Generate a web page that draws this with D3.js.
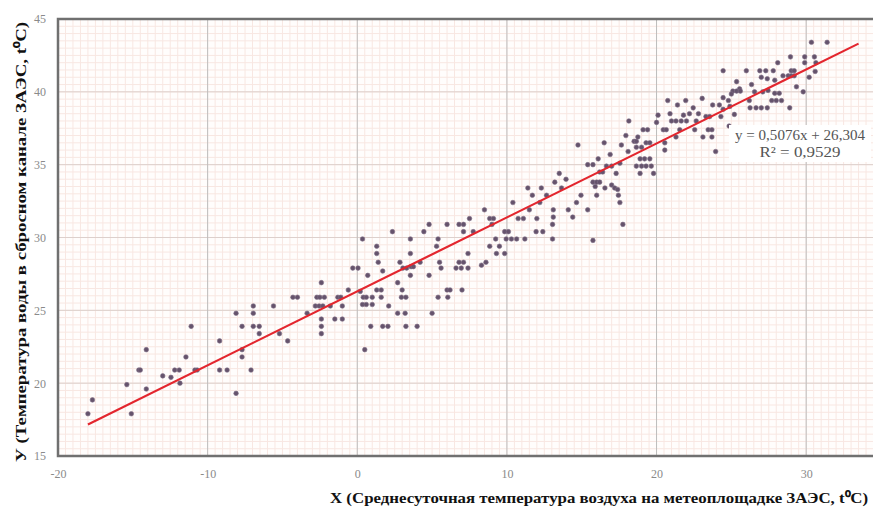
<!DOCTYPE html>
<html>
<head>
<meta charset="utf-8">
<script src="https://cdn.jsdelivr.net/npm/d3@7"></script>
<style>
  body { margin: 0; background: #ffffff; }
  svg { display: block; }
</style>
</head>
<body>
<div id="chart"></div>
<script>
// air temperature (X) and water temperature (Y)
var airTemp = [
  -17.7, -18.0, -15.1, -15.4, -14.1, -14.1, -14.6, -14.5, -13.0, -12.45, -12.2, -11.9, -11.45, -11.1, -11.85, -10.85, -10.7,
  -9.2, -9.2, -8.7, -8.1, -7.7, -7.7, -7.1, -7.7, -8.1, -6.95, -6.95, -6.95, -6.55, -6.55, -5.6, -4.65, -5.2, -4.3, -4.0,
  -3.35, -2.7, -2.5, -2.2, -2.4, -2.8, -2.55, -2.3, -2.4, -2.4, -2.4, -1.8, -1.5, -1.3,
  -1.1, -1.0, -1.0, -0.6, -0.3, 0.05, 0.35, 0.4, 0.6, 0.35, 0.6, 1.0, 0.2, 0.5, 0.7, 0.9, 1.0, 1.3, 1.3, 1.4, 1.3, 1.6,
  1.7, 1.6, 1.7, 2.05, 2.1, 2.35, 2.7, 2.85, 3.0, 3.05, 3.3, 2.95, 3.25, 2.7, 3.2, 3.25, 3.55, 3.55, 3.6, 3.75, 3.55, 4.0,
  4.2, 4.45, 4.8, 4.8, 5.0, 5.3, 5.4, 5.5, 5.6, 5.4, 6.05, 6.0, 6.2, 6.0, 6.6, 6.95, 7.4, 6.8, 7.1, 6.8, 7.1, 7.0, 7.1,
  7.4, 7.5, 7.75, 8.3, 8.6, 8.5, 8.85, 9.1, 9.0, 8.85, 9.25, 9.5, 9.3, 9.85, 9.85, 10.1, 9.95, 10.3, 10.65, 10.4, 10.75,
  11.1, 11.2, 11.4, 11.5, 11.7, 12.0, 11.95,
  12.2, 12.4, 12.3, 12.65, 13.1, 13.1, 13.05, 13.05, 13.2, 13.5, 13.65, 13.95, 14.1, 14.4, 14.65, 14.95, 14.75, 15.4, 15.4,
  15.75, 15.75, 16.0, 16.2, 15.9, 16.1, 16.0, 15.75, 16.2, 16.4, 16.5, 16.55, 16.9, 16.65, 17.0, 17.0, 17.2, 17.4, 17.45,
  17.55, 17.65, 17.55, 17.3, 17.75, 17.95, 18.15, 18.1, 18.5, 18.65, 18.65, 19.0, 18.75, 19.1, 19.4, 18.9, 19.2, 19.55,
  18.65, 19.0, 19.3, 19.65, 18.9, 19.8, 19.3, 19.55, 20.0, 20.1, 20.45, 20.65, 20.55, 20.55, 20.75, 20.9, 21.0, 21.3,
  21.65, 22.0, 21.4, 21.3, 21.55, 21.8, 21.95, 22.2, 22.45, 22.55, 22.65, 22.8, 23.05, 23.1, 23.45, 23.7, 23.7, 23.95,
  23.3, 23.55, 23.75,
  30.35, 31.4, 29.9, 30.55, 30.65, 30.6, 29.9, 28.95, 28.1, 29.0, 29.2, 28.45, 28.8, 29.0, 29.2, 29.35, 27.3, 27.8, 26.9,
  26.0, 24.45, 27.0, 27.4, 27.9, 25.35, 25.55, 25.1, 25.35, 25.6, 26.35, 26.55, 25.0, 27.1, 27.45, 27.9, 28.2, 27.7, 28.0,
  28.35, 28.9, 26.2, 26.25, 26.65, 27.0, 27.4, 25.2, 24.8, 24.45, 24.2, 24.9, 24.45, 24.3, 24.85, 25.1, 25.55, 29.8, 30.2
];
var waterTemp = [
  18.85, 17.9, 17.9, 19.9, 19.6, 22.3, 20.9, 20.9, 20.5, 20.4, 20.9, 20.9, 21.8, 23.9, 20.0, 20.9, 20.9,
  22.9, 20.9, 20.9, 19.3, 21.8, 22.3, 20.9, 23.9, 24.8, 25.3, 24.8, 23.9, 23.9, 23.4, 25.3, 22.9, 23.4, 25.9, 25.9,
  24.8, 25.9, 25.9, 25.9, 26.9, 25.3, 25.3, 25.3, 24.4, 23.9, 23.4, 25.3, 24.4, 25.9,
  25.9, 25.3, 24.4, 26.4, 27.9, 27.9, 29.9, 25.9, 25.9, 25.4, 25.4, 25.4, 26.3, 22.3, 27.4, 23.9, 25.9, 29.4, 28.9, 28.3, 26.4, 26.4,
  27.7, 25.9, 23.9, 23.9, 25.3, 30.4, 26.9, 28.3, 26.4, 27.9, 27.9, 25.9, 25.9, 24.8, 24.8, 23.9, 29.9, 28.9, 28.0, 28.0, 27.4, 23.9,
  28.3, 30.4, 30.9, 27.4, 24.8, 29.4, 29.9, 28.3, 27.9, 25.9, 25.9, 26.4, 26.4, 30.9, 27.9, 27.9, 27.9, 28.3, 28.3, 30.9, 30.9, 26.4, 30.4,
  28.9, 31.3, 30.4, 28.1, 28.3, 31.9, 31.3, 31.3, 30.9, 29.4, 29.9, 29.4, 28.9, 28.9, 30.4, 30.4, 29.9, 29.9, 29.9, 32.4, 31.3,
  31.3, 29.9, 33.4, 31.9, 32.9, 31.3, 30.4,
  32.4, 30.4, 33.4, 32.9, 31.9, 31.4, 30.9, 29.9, 33.8, 34.4, 33.4, 34.0, 31.9, 31.4, 32.4, 32.9, 36.35, 31.9, 35.0,
  35.0, 33.8, 33.8, 33.8, 33.5, 35.4, 32.9, 29.8, 34.5, 34.5, 36.5, 33.4, 35.7, 34.9, 34.9, 33.6, 33.4, 33.3, 32.9,
  32.4, 36.35, 35.1, 34.4, 30.9, 37.0, 38.0, 35.9, 36.6, 36.6, 36.2, 36.2, 36.9, 37.4, 37.4, 35.4, 35.4, 35.4,
  34.9, 34.9, 34.9, 34.9, 34.4, 34.4, 36.5, 36.5, 37.9, 38.4, 37.4, 37.4, 36.5, 36.0, 39.4, 38.5, 38.0, 38.0,
  38.0, 38.0, 39.1, 36.9, 37.4, 38.4, 39.4, 38.5, 38.9, 37.4, 38.0, 38.5, 39.55, 36.9, 37.4, 37.4, 36.9, 35.9,
  38.3, 38.3, 39.1,
  43.4, 43.4, 42.4, 42.4, 42.0, 41.4, 42.0, 42.4, 42.0, 41.45, 41.45, 41.1, 41.1, 41.1, 41.1, 40.35, 41.45, 41.45, 41.45,
  41.45, 41.45, 41.0, 40.9, 40.8, 40.7, 40.2, 40.05, 40.05, 40.05, 40.5, 40.0, 39.85, 40.0, 40.1, 39.9, 39.9, 39.4, 39.4,
  39.4, 38.9, 39.4, 38.9, 38.9, 38.9, 38.9, 38.45, 39.4, 39.6, 39.1, 39.0, 38.8, 38.3, 37.65, 37.4, 37.3, 40.0, 41.0
];

var xTicks = [-20, -10, 0, 10, 20, 30];
var yTicks = [15, 20, 25, 30, 35, 40, 45];

// linear trend from the chart
var slope = 0.5076, intercept = 26.304;
var trendX = [-18, 33.5];
var equationLines = ["y = 0,5076x + 26,304", "R\u00B2 = 0,9529"];

var xTitle = "Х (Среднесуточная температура воздуха на метеоплощадке ЗАЭС, t\u2070C)";
var yTitle = "У (Температура воды в сбросном канале ЗАЭС, t\u2070C)";

var width = 873, height = 511;
var pLeft = 58, pRight = 881, pTop = 19, pBottom = 456;
var serif = "'Liberation Serif', 'Times New Roman', serif";

var svg = d3.select("#chart").append("svg")
    .attr("width", width)
    .attr("height", height);

var x = d3.scaleLinear().domain([-20, 35]).range([pLeft, pRight]);
var y = d3.scaleLinear().domain([15, 45]).range([pBottom, pTop]);

// plot background
svg.append("rect")
    .attr("x", pLeft).attr("y", pTop)
    .attr("width", pRight - pLeft).attr("height", pBottom - pTop)
    .attr("fill", "#fffdfc");

// minor grid every 0.5
var g = svg.append("g");
g.selectAll("line.vminor")
    .data(d3.range(-20, 35.01, 0.5))
    .enter().append("line")
    .attr("x1", function (d) { return x(d); })
    .attr("x2", function (d) { return x(d); })
    .attr("y1", pTop).attr("y2", pBottom)
    .attr("stroke", "#f8e7e2")
    .attr("stroke-width", 1);
g.selectAll("line.hminor")
    .data(d3.range(15, 45.01, 0.5))
    .enter().append("line")
    .attr("y1", function (d) { return y(d); })
    .attr("y2", function (d) { return y(d); })
    .attr("x1", pLeft).attr("x2", pRight)
    .attr("stroke", "#f8e7e2")
    .attr("stroke-width", 1);

// major grid
g.selectAll("line.hmajor")
    .data(yTicks)
    .enter().append("line")
    .attr("y1", function (d) { return y(d); })
    .attr("y2", function (d) { return y(d); })
    .attr("x1", pLeft).attr("x2", pRight)
    .attr("stroke", "#ddd0cc")
    .attr("stroke-width", 1);
g.selectAll("line.vmajor")
    .data(xTicks)
    .enter().append("line")
    .attr("x1", function (d) { return x(d); })
    .attr("x2", function (d) { return x(d); })
    .attr("y1", pTop).attr("y2", pBottom)
    .attr("stroke", "#bdbdbd")
    .attr("stroke-width", 1);

// frame (top, left, bottom)
svg.append("path")
    .attr("d", "M" + pRight + "," + pTop + "H" + pLeft + "V" + pBottom + "H" + pRight)
    .attr("fill", "none")
    .attr("stroke", "#707070")
    .attr("stroke-width", 2.5);

// axes (labels only)
var xAxis = svg.append("g")
    .attr("transform", "translate(0," + pBottom + ")")
    .call(d3.axisBottom(x).tickValues(xTicks).tickSize(0).tickPadding(13)
        .tickFormat(function (d) { return String(d); }));
var yAxis = svg.append("g")
    .attr("transform", "translate(" + pLeft + ",0)")
    .call(d3.axisLeft(y).tickValues(yTicks).tickSize(0).tickPadding(12)
        .tickFormat(function (d) { return String(d); }));
[xAxis, yAxis].forEach(function (a) {
    a.select(".domain").remove();
    a.selectAll("text")
        .attr("fill", "#8a8a8a")
        .style("font-family", serif)
        .style("font-size", "12px");
});

// points
var pts = d3.zip(airTemp, waterTemp);
svg.append("g").selectAll("circle")
    .data(pts)
    .enter().append("circle")
    .attr("cx", function (d) { return x(d[0]); })
    .attr("cy", function (d) { return y(d[1]); })
    .attr("r", 2.3)
    .attr("fill", "#65536c")
    .attr("stroke", "#806f86")
    .attr("stroke-width", 0.6);

// trend line
var line = d3.line()
    .x(function (d) { return x(d); })
    .y(function (d) { return y(slope * d + intercept); });
svg.append("path")
    .datum(trendX)
    .attr("d", line)
    .attr("fill", "none")
    .attr("stroke", "#e3262e")
    .attr("stroke-width", 2.2);

// equation label
svg.append("rect")
    .attr("x", 729).attr("y", 125)
    .attr("width", 142).attr("height", 37)
    .attr("fill", "#ffffff");
var eqWidths = [130, 81];
svg.append("g").selectAll("text")
    .data(equationLines)
    .enter().append("text")
    .attr("x", 800)
    .attr("y", function (d, i) { return 140 + i * 17; })
    .attr("text-anchor", "middle")
    .attr("fill", "#555555")
    .attr("textLength", function (d, i) { return eqWidths[i]; })
    .attr("lengthAdjust", "spacingAndGlyphs")
    .style("font-family", serif)
    .style("font-size", "14px")
    .text(function (d) { return d; });

// axis titles
svg.append("text")
    .attr("x", 868).attr("y", 503)
    .attr("text-anchor", "end")
    .attr("fill", "#111")
    .attr("textLength", 538)
    .attr("lengthAdjust", "spacingAndGlyphs")
    .style("font-family", serif)
    .style("font-weight", "bold")
    .style("font-size", "15px")
    .text(xTitle);
svg.append("text")
    .attr("transform", "translate(26,242) rotate(-90)")
    .attr("text-anchor", "middle")
    .attr("fill", "#111")
    .attr("textLength", 440)
    .attr("lengthAdjust", "spacingAndGlyphs")
    .style("font-family", serif)
    .style("font-weight", "bold")
    .style("font-size", "15px")
    .text(yTitle);
</script>
</body>
</html>
